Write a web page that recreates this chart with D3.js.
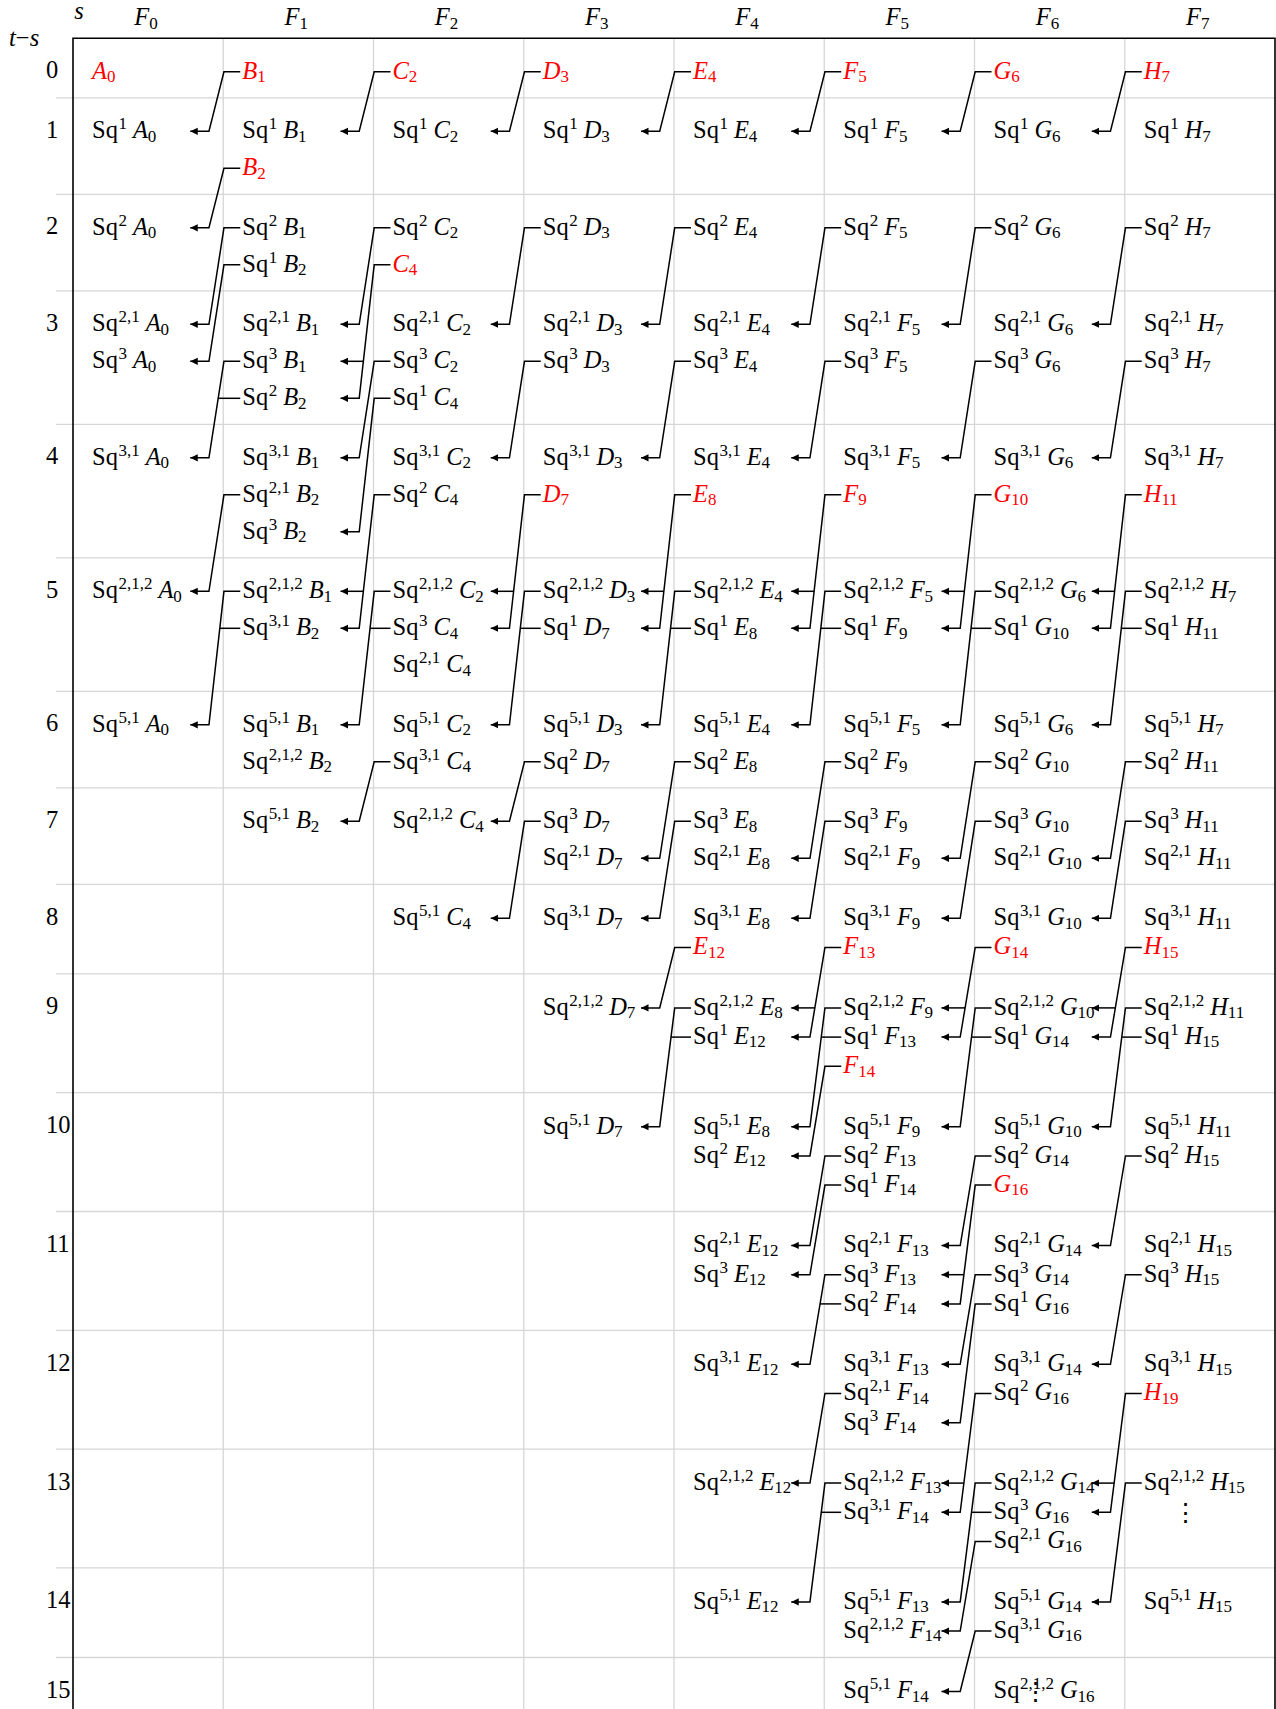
<!DOCTYPE html>
<html>
<head>
<meta charset="utf-8">
<script src="https://cdn.jsdelivr.net/npm/d3@7"></script>
<style>
  body { margin: 0; background: #fff; }
  svg { display: block; }
  text { font-family: 'Liberation Serif', 'DejaVu Serif', serif; font-size: 24.5px; fill: #000; }
</style>
</head>
<body>
<svg id="chart" width="1276" height="1709"></svg>
<script>
/* global d3 */
// column headers F_s and the generator letter used in each column
const colSubs = ['0', '1', '2', '3', '4', '5', '6', '7']
const letters = ['A', 'B', 'C', 'D', 'E', 'F', 'G', 'H']
// t-s rows and how many lines each row holds
const rowLabels = d3.range(16)
const rowSlots = [1, 2, 2, 3, 3, 3, 2, 2, 2, 3, 3, 3, 3, 3, 2, 2]

// entries: [Sq exponents ('' = generator), generator, t-s, line in cell]
const colA = [
  ['', 'A0', 0, 0], ['1', 'A0', 1, 0], ['2', 'A0', 2, 0], ['2,1', 'A0', 3, 0], ['3', 'A0', 3, 1],
  ['3,1', 'A0', 4, 0], ['2,1,2', 'A0', 5, 0], ['5,1', 'A0', 6, 0]
]
const colB = [
  ['', 'B1', 0, 0], ['1', 'B1', 1, 0], ['', 'B2', 1, 1], ['2', 'B1', 2, 0], ['1', 'B2', 2, 1],
  ['2,1', 'B1', 3, 0], ['3', 'B1', 3, 1], ['2', 'B2', 3, 2], ['3,1', 'B1', 4, 0], ['2,1', 'B2', 4, 1],
  ['3', 'B2', 4, 2], ['2,1,2', 'B1', 5, 0], ['3,1', 'B2', 5, 1], ['5,1', 'B1', 6, 0], ['2,1,2', 'B2', 6, 1],
  ['5,1', 'B2', 7, 0]
]
const colC = [
  ['', 'C2', 0, 0], ['1', 'C2', 1, 0], ['2', 'C2', 2, 0], ['', 'C4', 2, 1], ['2,1', 'C2', 3, 0],
  ['3', 'C2', 3, 1], ['1', 'C4', 3, 2], ['3,1', 'C2', 4, 0], ['2', 'C4', 4, 1], ['2,1,2', 'C2', 5, 0],
  ['3', 'C4', 5, 1], ['2,1', 'C4', 5, 2], ['5,1', 'C2', 6, 0], ['3,1', 'C4', 6, 1], ['2,1,2', 'C4', 7, 0],
  ['5,1', 'C4', 8, 0]
]
const colD = [
  ['', 'D3', 0, 0], ['1', 'D3', 1, 0], ['2', 'D3', 2, 0], ['2,1', 'D3', 3, 0], ['3', 'D3', 3, 1],
  ['3,1', 'D3', 4, 0], ['', 'D7', 4, 1], ['2,1,2', 'D3', 5, 0], ['1', 'D7', 5, 1], ['5,1', 'D3', 6, 0],
  ['2', 'D7', 6, 1], ['3', 'D7', 7, 0], ['2,1', 'D7', 7, 1], ['3,1', 'D7', 8, 0], ['2,1,2', 'D7', 9, 0],
  ['5,1', 'D7', 10, 0]
]
const colE = [
  ['', 'E4', 0, 0], ['1', 'E4', 1, 0], ['2', 'E4', 2, 0], ['2,1', 'E4', 3, 0], ['3', 'E4', 3, 1],
  ['3,1', 'E4', 4, 0], ['', 'E8', 4, 1], ['2,1,2', 'E4', 5, 0], ['1', 'E8', 5, 1], ['5,1', 'E4', 6, 0],
  ['2', 'E8', 6, 1], ['3', 'E8', 7, 0], ['2,1', 'E8', 7, 1], ['3,1', 'E8', 8, 0], ['', 'E12', 8, 1],
  ['2,1,2', 'E8', 9, 0], ['1', 'E12', 9, 1], ['5,1', 'E8', 10, 0], ['2', 'E12', 10, 1],
  ['2,1', 'E12', 11, 0], ['3', 'E12', 11, 1], ['3,1', 'E12', 12, 0], ['2,1,2', 'E12', 13, 0],
  ['5,1', 'E12', 14, 0]
]
const colF = [
  ['', 'F5', 0, 0], ['1', 'F5', 1, 0], ['2', 'F5', 2, 0], ['2,1', 'F5', 3, 0], ['3', 'F5', 3, 1],
  ['3,1', 'F5', 4, 0], ['', 'F9', 4, 1], ['2,1,2', 'F5', 5, 0], ['1', 'F9', 5, 1], ['5,1', 'F5', 6, 0],
  ['2', 'F9', 6, 1], ['3', 'F9', 7, 0], ['2,1', 'F9', 7, 1], ['3,1', 'F9', 8, 0], ['', 'F13', 8, 1],
  ['2,1,2', 'F9', 9, 0], ['1', 'F13', 9, 1], ['', 'F14', 9, 2], ['5,1', 'F9', 10, 0], ['2', 'F13', 10, 1],
  ['1', 'F14', 10, 2], ['2,1', 'F13', 11, 0], ['3', 'F13', 11, 1], ['2', 'F14', 11, 2],
  ['3,1', 'F13', 12, 0], ['2,1', 'F14', 12, 1], ['3', 'F14', 12, 2], ['2,1,2', 'F13', 13, 0],
  ['3,1', 'F14', 13, 1], ['5,1', 'F13', 14, 0], ['2,1,2', 'F14', 14, 1], ['5,1', 'F14', 15, 0]
]
const colG = [
  ['', 'G6', 0, 0], ['1', 'G6', 1, 0], ['2', 'G6', 2, 0], ['2,1', 'G6', 3, 0], ['3', 'G6', 3, 1],
  ['3,1', 'G6', 4, 0], ['', 'G10', 4, 1], ['2,1,2', 'G6', 5, 0], ['1', 'G10', 5, 1], ['5,1', 'G6', 6, 0],
  ['2', 'G10', 6, 1], ['3', 'G10', 7, 0], ['2,1', 'G10', 7, 1], ['3,1', 'G10', 8, 0], ['', 'G14', 8, 1],
  ['2,1,2', 'G10', 9, 0], ['1', 'G14', 9, 1], ['5,1', 'G10', 10, 0], ['2', 'G14', 10, 1], ['', 'G16', 10, 2],
  ['2,1', 'G14', 11, 0], ['3', 'G14', 11, 1], ['1', 'G16', 11, 2], ['3,1', 'G14', 12, 0],
  ['2', 'G16', 12, 1], ['2,1,2', 'G14', 13, 0], ['3', 'G16', 13, 1], ['2,1', 'G16', 13, 2],
  ['5,1', 'G14', 14, 0], ['3,1', 'G16', 14, 1], ['2,1,2', 'G16', 15, 0]
]
const colH = [
  ['', 'H7', 0, 0], ['1', 'H7', 1, 0], ['2', 'H7', 2, 0], ['2,1', 'H7', 3, 0], ['3', 'H7', 3, 1],
  ['3,1', 'H7', 4, 0], ['', 'H11', 4, 1], ['2,1,2', 'H7', 5, 0], ['1', 'H11', 5, 1], ['5,1', 'H7', 6, 0],
  ['2', 'H11', 6, 1], ['3', 'H11', 7, 0], ['2,1', 'H11', 7, 1], ['3,1', 'H11', 8, 0], ['', 'H15', 8, 1],
  ['2,1,2', 'H11', 9, 0], ['1', 'H15', 9, 1], ['5,1', 'H11', 10, 0], ['2', 'H15', 10, 1],
  ['2,1', 'H15', 11, 0], ['3', 'H15', 11, 1], ['3,1', 'H15', 12, 0], ['', 'H19', 12, 1],
  ['2,1,2', 'H15', 13, 0], ['5,1', 'H15', 14, 0]
]
// continuation dots: [column, t-s, line]
const vdots = [[7, 13, 1], [6, 15, 0]]

// differentials F_{s+1} -> F_s : [sources, targets]
const dBA = [
  [['B1'], ['1 A0']], [['B2'], ['2 A0']], [['2 B1'], ['2,1 A0']], [['1 B2'], ['3 A0']],
  [['3 B1', '2 B2'], ['3,1 A0']], [['2,1 B2'], ['2,1,2 A0']], [['2,1,2 B1', '3,1 B2'], ['5,1 A0']]
]
const dCB = [
  [['C2'], ['1 B1']], [['2 C2'], ['2,1 B1']], [['C4'], ['3 B1', '2 B2']], [['3 C2'], ['3,1 B1']],
  [['1 C4'], ['3 B2']], [['2 C4'], ['2,1,2 B1', '3,1 B2']], [['2,1,2 C2', '3 C4'], ['5,1 B1']],
  [['3,1 C4'], ['5,1 B2']]
]
const dDC = [
  [['D3'], ['1 C2']], [['2 D3'], ['2,1 C2']], [['3 D3'], ['3,1 C2']], [['D7'], ['2,1,2 C2', '3 C4']],
  [['2,1,2 D3', '1 D7'], ['5,1 C2']], [['2 D7'], ['2,1,2 C4']], [['3 D7'], ['5,1 C4']]
]
const dED = [
  [['E4'], ['1 D3']], [['2 E4'], ['2,1 D3']], [['3 E4'], ['3,1 D3']], [['E8'], ['2,1,2 D3', '1 D7']],
  [['2,1,2 E4', '1 E8'], ['5,1 D3']], [['2 E8'], ['2,1 D7']], [['3 E8'], ['3,1 D7']],
  [['E12'], ['2,1,2 D7']], [['2,1,2 E8', '1 E12'], ['5,1 D7']]
]
const dFE = [
  [['F5'], ['1 E4']], [['2 F5'], ['2,1 E4']], [['3 F5'], ['3,1 E4']], [['F9'], ['2,1,2 E4', '1 E8']],
  [['2,1,2 F5', '1 F9'], ['5,1 E4']], [['2 F9'], ['2,1 E8']], [['3 F9'], ['3,1 E8']],
  [['F13'], ['2,1,2 E8', '1 E12']], [['2,1,2 F9', '1 F13'], ['5,1 E8']], [['F14'], ['2 E12']],
  [['2 F13'], ['2,1 E12']], [['1 F14'], ['3 E12']], [['3 F13', '2 F14'], ['3,1 E12']],
  [['2,1 F14'], ['2,1,2 E12']], [['2,1,2 F13', '3,1 F14'], ['5,1 E12']]
]
const dGF = [
  [['G6'], ['1 F5']], [['2 G6'], ['2,1 F5']], [['3 G6'], ['3,1 F5']], [['G10'], ['2,1,2 F5', '1 F9']],
  [['2,1,2 G6', '1 G10'], ['5,1 F5']], [['2 G10'], ['2,1 F9']], [['3 G10'], ['3,1 F9']],
  [['G14'], ['2,1,2 F9', '1 F13']], [['2,1,2 G10', '1 G14'], ['5,1 F9']], [['2 G14'], ['2,1 F13']],
  [['G16'], ['3 F13', '2 F14']], [['3 G14'], ['3,1 F13']], [['1 G16'], ['3 F14']],
  [['2 G16'], ['2,1,2 F13', '3,1 F14']], [['2,1,2 G14', '3 G16'], ['5,1 F13']],
  [['2,1 G16'], ['2,1,2 F14']], [['3,1 G16'], ['5,1 F14']]
]
const dHG = [
  [['H7'], ['1 G6']], [['2 H7'], ['2,1 G6']], [['3 H7'], ['3,1 G6']], [['H11'], ['2,1,2 G6', '1 G10']],
  [['2,1,2 H7', '1 H11'], ['5,1 G6']], [['2 H11'], ['2,1 G10']], [['3 H11'], ['3,1 G10']],
  [['H15'], ['2,1,2 G10', '1 G14']], [['2,1,2 H11', '1 H15'], ['5,1 G10']], [['2 H15'], ['2,1 G14']],
  [['3 H15'], ['3,1 G14']], [['H19'], ['2,1,2 G14', '3 G16']], [['2,1,2 H15'], ['5,1 G14']]
]

const entries = [colA, colB, colC, colD, colE, colF, colG, colH].flat()
const diffs = [dBA, dCB, dDC, dED, dFE, dGF, dHG]

const svg = d3.select('#chart')
const height = +svg.attr('height')
const frame = { left: 73, top: 38.3, right: 1275 }
const scriptSize = 17

const x = d3.scaleBand().domain(d3.range(8)).range([frame.left, frame.right])

// upper rows are spaced wider than the lower ones
const rowGap = r => r < 8 ? 37 : 29.2
const padTop = r => r < 8 ? 33.5 : 34
const padBottom = r => r < 8 ? 26 : 26.4
const rowHeights = rowSlots.map((n, r) => padTop(r) + rowGap(r) * (n - 1) + padBottom(r))
const rowTops = [frame.top, ...d3.cumsum(rowHeights).map(v => v + frame.top)]
const yRow = d3.scaleOrdinal().domain(d3.range(17)).range(rowTops)
const yLine = (r, k) => yRow(r) + padTop(r) + k * rowGap(r)

const entryKey = d => (d[0] ? d[0] + ' ' : '') + d[1]
const byKey = new Map(entries.map(d => [entryKey(d), d]))
const colOf = d => letters.indexOf(d[1][0])

// grid
const grid = svg.append('g').attr('stroke', '#d6d6d6').attr('stroke-width', 1.3)
grid.selectAll('.hline').data(d3.range(1, 16)).join('line')
  .attr('class', 'hline')
  .attr('x1', 56).attr('x2', frame.right)
  .attr('y1', d => yRow(d)).attr('y2', d => yRow(d))
grid.selectAll('.vline').data(d3.range(1, 8)).join('line')
  .attr('class', 'vline')
  .attr('x1', d => x(d)).attr('x2', d => x(d))
  .attr('y1', frame.top).attr('y2', height)

svg.append('path')
  .attr('d', `M${frame.left},${height}V${frame.top}H${frame.right}V${height}`)
  .attr('fill', 'none').attr('stroke', '#000').attr('stroke-width', 1.6)

// headers
svg.append('text').attr('x', 79).attr('y', 18.5).attr('text-anchor', 'middle')
  .attr('font-style', 'italic').attr('font-size', 18).text('s')
const ts = svg.append('text').attr('x', 9).attr('y', 46).attr('font-size', 22)
ts.append('tspan').attr('font-style', 'italic').text('t')
ts.append('tspan').text('−')
ts.append('tspan').attr('font-style', 'italic').text('s')

const heads = svg.append('g').selectAll('text').data(colSubs).join('text')
  .attr('x', (d, i) => x(i) + 73).attr('y', 25).attr('text-anchor', 'middle')
heads.append('tspan').attr('font-style', 'italic').text('F')
heads.append('tspan').attr('font-size', scriptSize).attr('dy', 3.5).text(d => d)

svg.append('g').selectAll('text').data(rowLabels).join('text')
  .attr('x', 46).attr('y', d => yLine(d, 0) + 6.5)
  .text(d => d)

// entries
svg.append('g').selectAll('text').data(entries).join('text')
  .attr('x', d => x(colOf(d)) + 19)
  .attr('y', d => yLine(d[2], d[3]) + 6.8)
  .each(function (d) {
    const t = d3.select(this)
    const red = d[0] === ''
    if (!red) {
      t.append('tspan').text('Sq')
      t.append('tspan').attr('font-size', scriptSize).attr('dx', 0.5).attr('dy', -9).text(d[0])
    }
    t.append('tspan').attr('font-style', 'italic')
      .attr('dy', red ? 0 : 9).attr('dx', red ? 0 : 6)
      .style('fill', red ? '#ff0000' : null).text(d[1][0])
    t.append('tspan').attr('font-size', scriptSize).attr('dy', 3.5)
      .style('fill', red ? '#ff0000' : null).text(d[1].slice(1))
  })

svg.append('g').selectAll('text').data(vdots).join('text')
  .attr('x', d => x(d[0]) + 61)
  .attr('y', d => yLine(d[1], d[2]))
  .attr('text-anchor', 'middle').attr('dominant-baseline', 'central')
  .style('font-family', 'DejaVu Serif').attr('font-size', 20)
  .text('⋮')

// differential arrows
svg.append('defs').append('marker')
  .attr('id', 'tip').attr('viewBox', '0 -4 8 8')
  .attr('refX', 7.5).attr('refY', 0)
  .attr('markerWidth', 8).attr('markerHeight', 8)
  .attr('markerUnits', 'userSpaceOnUse').attr('orient', 'auto')
  .append('path').attr('d', 'M0,-3.6L7.5,0L0,3.6Z').attr('fill', '#000')

const arrows = svg.append('g').attr('fill', 'none').attr('stroke', '#000').attr('stroke-width', 1.5)
diffs.forEach((list, c) => {
  const L = x(c + 1)
  list.forEach(([src, tgt]) => {
    const ys = src.map(k => byKey.get(k)).map(d => yLine(d[2], d[3]))
    const yt = tgt.map(k => byKey.get(k)).map(d => yLine(d[2], d[3]))
    const y0 = d3.min(ys)
    const y1 = d3.max(yt)
    const xa = L + 0.7
    const xb = L - 14.3
    const diag = d3.scaleLinear().domain([y0, y1]).range([xa, xb])
    const p = d3.path()
    p.moveTo(L + 17, y0)
    p.lineTo(xa, y0)
    p.lineTo(xb, y1)
    p.lineTo(L - 33, y1)
    arrows.append('path').attr('d', p.toString()).attr('marker-end', 'url(#tip)')
    ys.filter(y => y > y0).forEach(y => {
      arrows.append('path').attr('d', `M${diag(y)},${y}H${L + 17}`)
    })
    yt.filter(y => y < y1).forEach(y => {
      arrows.append('path').attr('d', `M${diag(y)},${y}H${L - 33}`).attr('marker-end', 'url(#tip)')
    })
  })
})
</script>
</body>
</html>
